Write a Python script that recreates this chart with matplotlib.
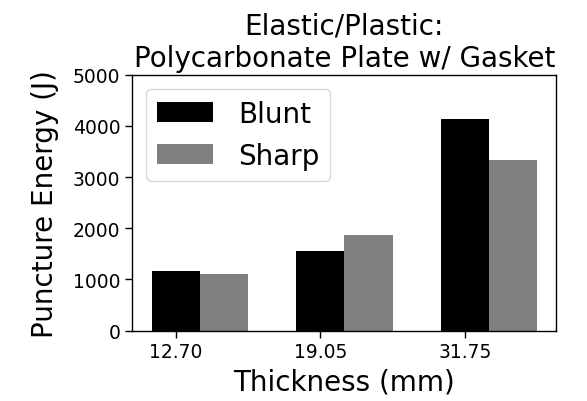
import numpy as np
import matplotlib
matplotlib.use("Agg")
import matplotlib.pyplot as plt

thickness = ["12.70", "19.05", "31.75"]
blunt = [1165, 1563, 4125]
sharp = [1112, 1875, 3340]

w = 1.0/3
x = np.arange(len(thickness))

fig = plt.figure(figsize=(5.87, 4.02), dpi=100)
ax = fig.add_axes([0.2254, 0.175, 0.7226, 0.6367])
ax.bar(x, blunt, w, color="black", label="Blunt")
ax.bar(x + w, sharp, w, color="gray", label="Sharp")
ax.set_xticks(x)
ax.set_xticklabels(thickness)
ax.set_ylim(0, 5000)
ax.tick_params(labelsize=13.5, length=5, width=1)
for s in ax.spines.values():
    s.set_linewidth(1)
ax.set_xlabel("Thickness (mm)", fontsize=20)
ax.set_ylabel("Puncture Energy (J)", fontsize=20, labelpad=10)
ax.set_title("Elastic/Plastic:\nPolycarbonate Plate w/ Gasket", fontsize=20)
ax.legend(loc="upper left", fontsize=20, handletextpad=0.9)
fig.savefig("out.png", dpi=100)
